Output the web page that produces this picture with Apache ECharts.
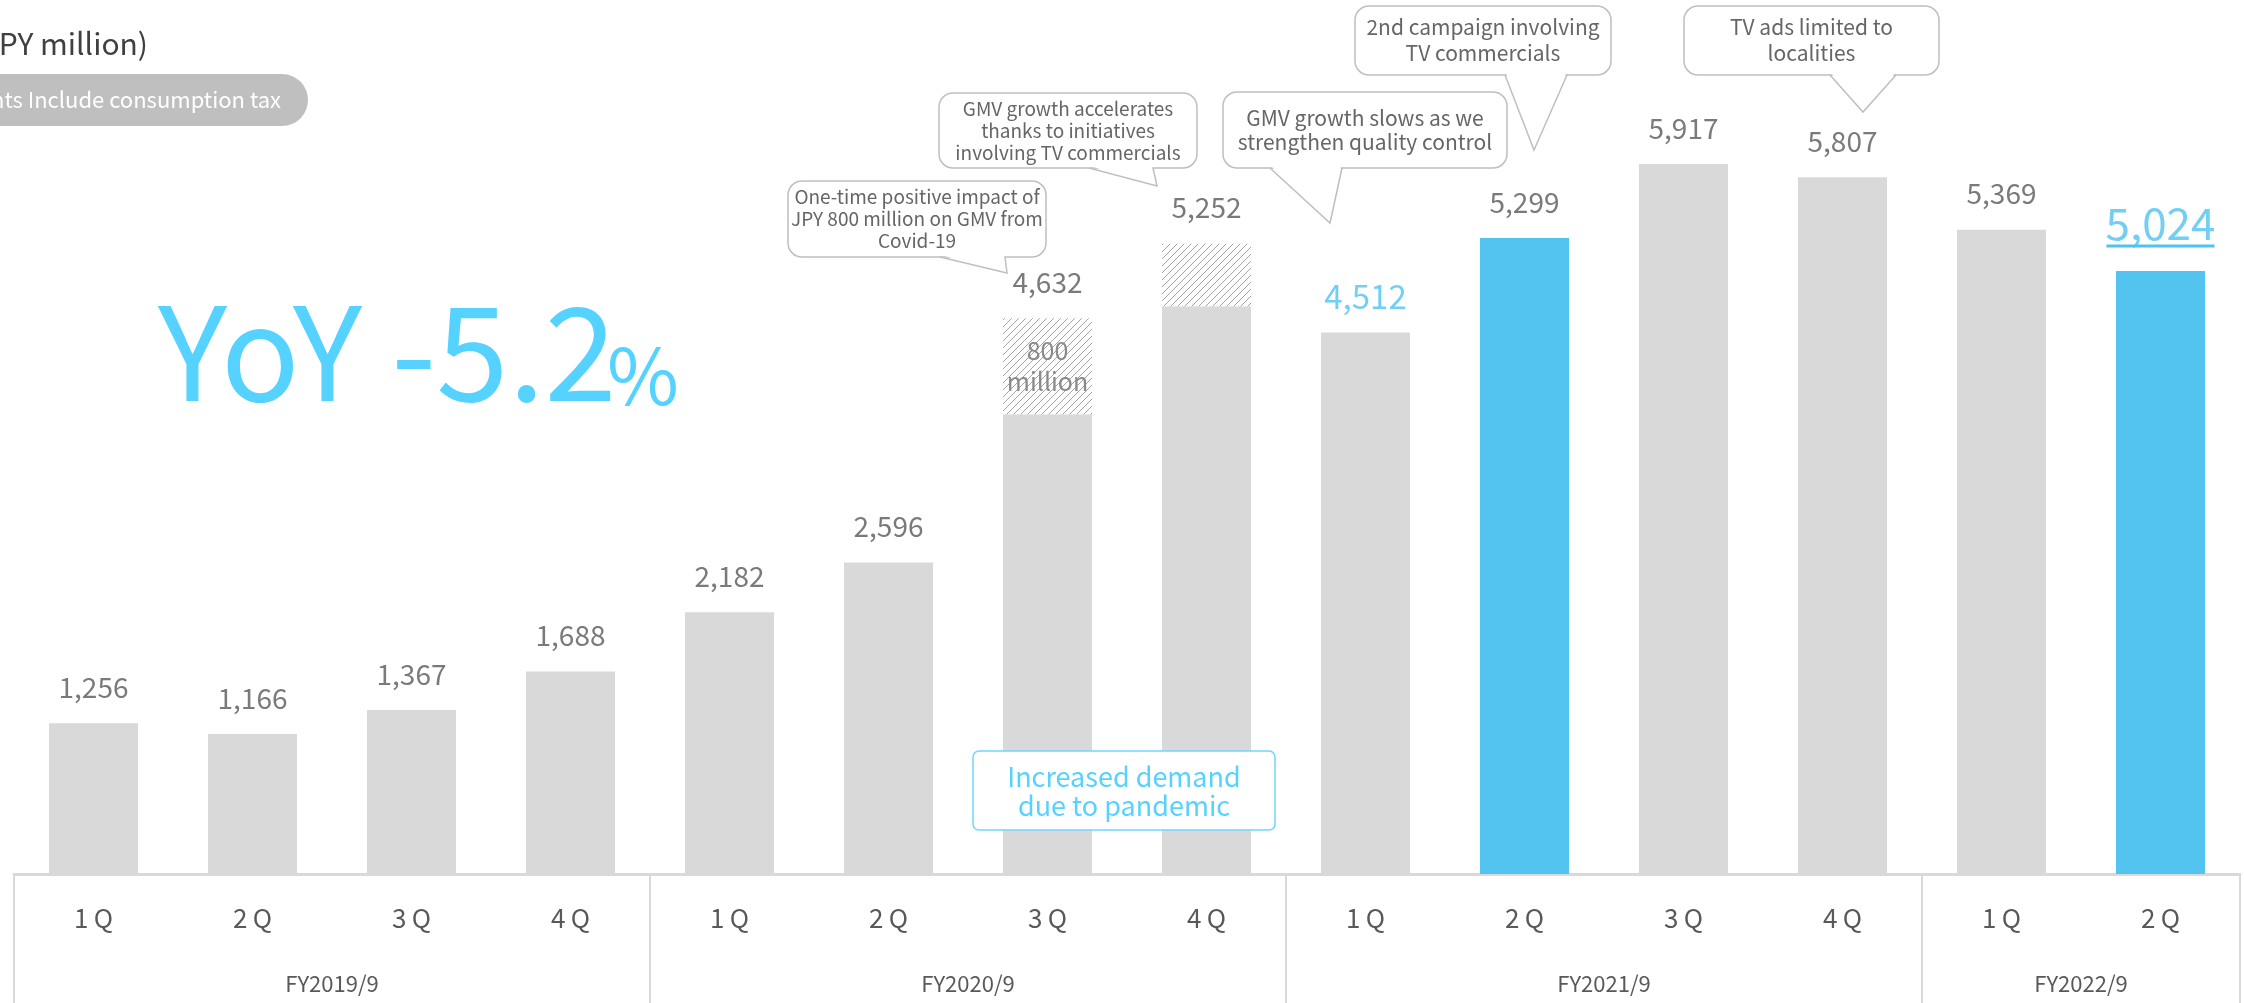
<!DOCTYPE html>
<html>
<head>
<meta charset="utf-8">
<script src="https://cdn.jsdelivr.net/npm/echarts@6/dist/echarts.min.js"></script>
<style>
html,body{margin:0;padding:0;background:#fff;}
#c{width:2244px;height:1003px;}
</style>
</head>
<body>
<div id="c"></div>
<script>
// ---- data ----
const quarters = ['1Q','2Q','3Q','4Q','1Q','2Q','3Q','4Q','1Q','2Q','3Q','4Q','1Q','2Q'];
const fiscalYears = ['FY2019/9','FY2020/9','FY2021/9','FY2022/9'];
const fiscalYearBounds = [0, 4, 8, 12, 14];
const fiscalYearCenters = [2, 6, 10, 13];
const gmv = [1256, 1166, 1367, 1688, 2182, 2596, 4632, 5252, 4512, 5299, 5917, 5807, 5369, 5024];
const covidBoost = [0, 0, 0, 0, 0, 0, 800, 520, 0, 0, 0, 0, 0, 0];
const highlightBars = [9, 13];
const blueLabels = [8, 13];

const FONT = '"Noto Sans CJK JP", "Noto Sans", sans-serif';
const GRAY_BAR = '#D9D9D9';
const BLUE_BAR = '#53C3F0';
const BLUE_TXT = '#4FC3F0';
const TXT = '#595959';

// hatch pattern
const pat = document.createElement('canvas');
pat.width = 7; pat.height = 7;
const pc = pat.getContext('2d');
pc.fillStyle = '#ffffff'; pc.fillRect(0, 0, 7, 7);
pc.strokeStyle = '#a3a3a3'; pc.lineWidth = 1;
pc.beginPath();
pc.moveTo(0, 7); pc.lineTo(7, 0);
pc.moveTo(-1, 1); pc.lineTo(1, -1);
pc.moveTo(6, 8); pc.lineTo(8, 6);
pc.stroke();

const baseData = gmv.map((v, i) => ({
  value: v - covidBoost[i],
  itemStyle: { color: highlightBars.includes(i) ? BLUE_BAR : GRAY_BAR }
}));
const hatchData = covidBoost.map((v, i) => {
  if (!v) return '-';
  return {
    value: v,
    label: i === 6 ? { show: true, position: 'inside', formatter: '800\nmillion', color: '#8a8a8a',
      fontSize: 25, lineHeight: 31, fontFamily: FONT } : { show: false }
  };
});
const labelData = gmv.map((v, i) => {
  const item = { value: v };
  if (i === 13) item.label = { color: BLUE_TXT, fontSize: 44, distance: 26 };
  else if (blueLabels.includes(i)) item.label = { color: BLUE_TXT, fontSize: 33, distance: 20 };
  return item;
});

const chart = echarts.init(document.getElementById('c'), null, { renderer: 'canvas' });

function callout(box, base, tip, lines, fontSize, lh) {
  const [x, y, w, h] = box;
  return [
    { type: 'rect', z: 100, shape: { x, y, width: w, height: h, r: 14 },
      style: { fill: '#fff', stroke: '#BFBFBF', lineWidth: 1.5 } },
    { type: 'polygon', z: 101, shape: { points: [[base[0] + 1, y + h - 2], [base[1] - 1, y + h - 2], tip] },
      style: { fill: '#fff' } },
    { type: 'polyline', z: 102, shape: { points: [[base[0], y + h], tip, [base[1], y + h]] },
      style: { stroke: '#BFBFBF', lineWidth: 1.5, fill: null } },
    { type: 'text', z: 103, x: x + w / 2, y: y + h / 2,
      style: { text: lines.join('\n'), fill: '#666666', font: fontSize + 'px ' + FONT,
        align: 'center', verticalAlign: 'middle', lineHeight: lh } }
  ];
}

let graphics = [];
graphics.push({ type: 'text', z: 100, x: 148, y: 44,
  style: { text: '(JPY million)', fill: '#404040', font: '30px ' + FONT, align: 'right', verticalAlign: 'middle' } });
graphics.push({ type: 'rect', z: 100, shape: { x: -40, y: 74, width: 348, height: 52, r: 26 },
  style: { fill: '#BFBFBF' } });
graphics.push({ type: 'text', z: 101, x: 281, y: 100,
  style: { text: 'Amounts Include consumption tax', fill: '#ffffff', font: '22px ' + FONT, align: 'right', verticalAlign: 'middle' } });
graphics.push({ type: 'text', z: 100, x: 158, y: 352,
  style: { text: 'YoY -5.2', fill: '#55D2FF', font: '130px ' + FONT, align: 'left', verticalAlign: 'middle' } });
graphics.push({ type: 'text', z: 100, x: 607, y: 375,
  style: { text: '%', fill: '#55D2FF', font: '78px ' + FONT, align: 'left', verticalAlign: 'middle' } });

graphics = graphics.concat(
  callout([788, 181, 258, 76], [940, 1005], [1007, 273],
    ['One-time positive impact of', 'JPY 800 million on GMV from', 'Covid-19'], 19, 22),
  callout([939, 93, 258, 75], [1089, 1153], [1157, 186],
    ['GMV growth accelerates', 'thanks to initiatives', 'involving TV commercials'], 19, 22),
  callout([1223, 92, 284, 76], [1270, 1342], [1330, 223],
    ['GMV growth slows as we', 'strengthen quality control'], 21, 24),
  callout([1355, 6, 256, 69], [1505, 1567], [1534, 150],
    ['2nd campaign involving', 'TV commercials'], 21, 26),
  callout([1684, 6, 255, 69], [1830, 1896], [1863, 112],
    ['TV ads limited to', 'localities'], 21, 26)
);
graphics.push({ type: 'rect', z: 100, shape: { x: 973, y: 751, width: 302, height: 79, r: 6 },
  style: { fill: '#fff', stroke: '#6FD5FF', lineWidth: 1.5 } });
graphics.push({ type: 'text', z: 101, x: 1124, y: 791,
  style: { text: 'Increased demand\ndue to pandemic', fill: '#55D2FF', font: '27px ' + FONT,
    align: 'center', verticalAlign: 'middle', lineHeight: 29 } });

const option = {
  backgroundColor: '#ffffff',
  animation: false,
  textStyle: { fontFamily: FONT },
  grid: { left: 14, right: 4, top: 34, bottom: 129, containLabel: false },
  xAxis: [
    {
      type: 'category', data: quarters,
      axisLine: { lineStyle: { color: '#D9D9D9', width: 3 } },
      axisTick: { show: false },
      axisLabel: { formatter: v => v.split('').join('\u2009'), fontSize: 26, color: TXT, margin: 31, fontFamily: FONT }
    },
    {
      type: 'value', min: 0, max: 14, position: 'bottom', offset: 129,
      axisLine: { show: false },
      splitLine: { show: false },
      axisTick: { show: true, inside: true, length: 129, customValues: fiscalYearBounds,
        lineStyle: { color: '#D9D9D9', width: 2 } },
      axisLabel: { show: true, inside: true, customValues: fiscalYearCenters, margin: 8,
        formatter: v => fiscalYears[fiscalYearCenters.indexOf(v)] || '', fontSize: 22, color: TXT, fontFamily: FONT }
    }
  ],
  yAxis: { type: 'value', min: 0, max: 7000, show: false, splitLine: { show: false } },
  series: [
    { type: 'bar', stack: 'g', barWidth: '56%', data: baseData, label: { show: false } },
    { type: 'bar', stack: 'g', barWidth: '56%', data: hatchData,
      itemStyle: { color: { image: pat, repeat: 'repeat' } } },
    { type: 'scatter', data: labelData, symbolSize: 0, silent: true, z: 5,
      label: { show: true, position: 'top', distance: 22, fontSize: 28, color: TXT, fontFamily: FONT,
        formatter: p => p.value.toLocaleString('en-US') } }
  ],
  graphic: graphics
};
chart.setOption(option);

// underline for latest value label
const pt = chart.convertToPixel({ seriesIndex: 0 }, [13, gmv[13]]);
if (pt) {
  const uy = pt[1] - 25;
  graphics.push({ type: 'line', z: 100, shape: { x1: pt[0] - 54, y1: uy, x2: pt[0] + 54, y2: uy },
    style: { stroke: BLUE_TXT, lineWidth: 3 } });
  chart.setOption({ graphic: graphics });
}
</script>
</body>
</html>
